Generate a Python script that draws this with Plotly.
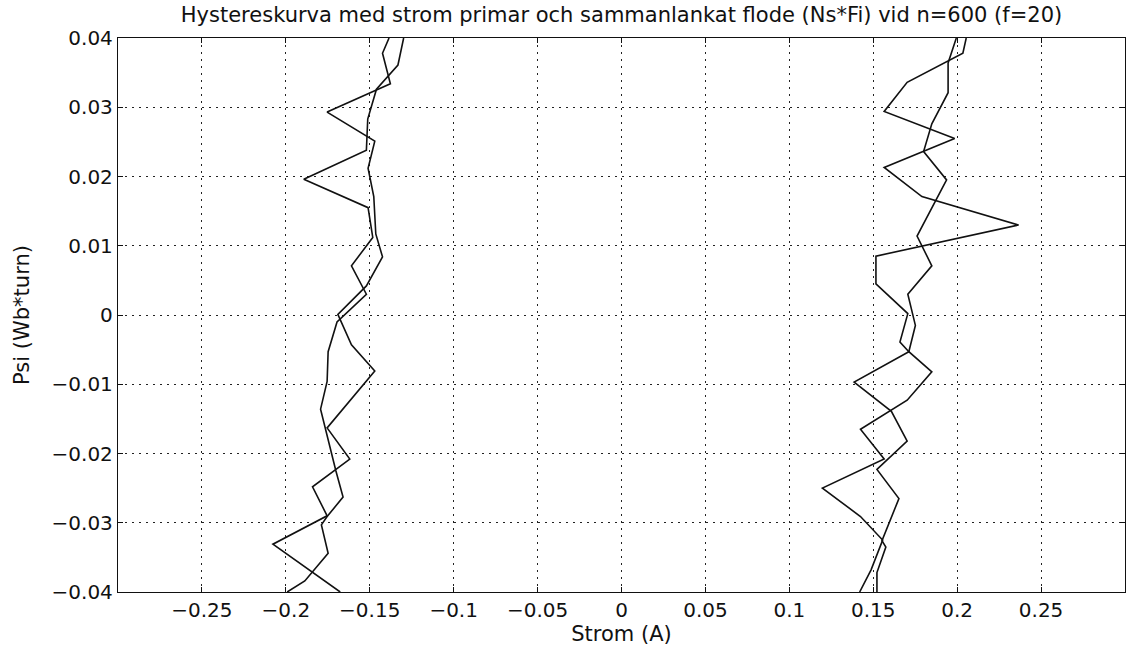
import plotly.graph_objects as go

# Measured hysteresis: primary current (A) vs. linked flux Psi (Wb*turn), n=600, f=20
# Four branches of the loop, each traced from top (Psi=+0.04) to bottom (Psi=-0.04)
left_a_current = [-0.1385, -0.1424, -0.1377, -0.1754, -0.1470, -0.1510, -0.1476, -0.1464,
                  -0.1424, -0.1520, -0.1690, -0.1609, -0.1470, -0.1754, -0.1619, -0.1841,
                  -0.1754, -0.2077, -0.1676]
left_a_psi = [0.0400, 0.0378, 0.0334, 0.0293, 0.0251, 0.0212, 0.0171, 0.0117,
              0.0084, 0.0042, 0.0001, -0.0043, -0.0081, -0.0163, -0.0208, -0.0248,
              -0.0290, -0.0331, -0.0400]

left_b_current = [-0.1298, -0.1332, -0.1460, -0.1512, -0.1520, -0.1893, -0.1510, -0.1482,
                  -0.1609, -0.1520, -0.1695, -0.1748, -0.1754, -0.1793, -0.1702, -0.1659,
                  -0.1754, -0.1788, -0.1748, -0.1887, -0.1992]
left_b_psi = [0.0400, 0.0361, 0.0326, 0.0283, 0.0238, 0.0196, 0.0155, 0.0112,
              0.0071, 0.0030, -0.0010, -0.0053, -0.0096, -0.0136, -0.0225, -0.0263,
              -0.0291, -0.0303, -0.0344, -0.0384, -0.0400]

right_a_current = [0.1995, 0.1946, 0.1946, 0.1849, 0.1800, 0.1937, 0.1761, 0.1849,
                   0.1706, 0.1751, 0.1712, 0.1849, 0.1702, 0.1424, 0.1565, 0.1197,
                   0.1424, 0.1556, 0.1487, 0.1419]
right_a_psi = [0.0400, 0.0364, 0.0321, 0.0276, 0.0236, 0.0195, 0.0114, 0.0071,
               0.0030, -0.0015, -0.0053, -0.0082, -0.0123, -0.0165, -0.0208, -0.0250,
               -0.0291, -0.0325, -0.0368, -0.0400]

right_b_current = [0.2054, 0.2034, 0.1702, 0.1565, 0.1985, 0.1800, 0.1565, 0.1790,
                   0.2366, 0.1516, 0.1516, 0.1706, 0.1659, 0.1712, 0.1386, 0.1608,
                   0.1702, 0.1522, 0.1653, 0.1552, 0.1575, 0.1522, 0.1522]
right_b_psi = [0.0400, 0.0378, 0.0336, 0.0294, 0.0255, 0.0236, 0.0213, 0.0171,
               0.0130, 0.0085, 0.0045, 0.0002, -0.0039, -0.0053, -0.0097, -0.0139,
               -0.0182, -0.0223, -0.0265, -0.0326, -0.0335, -0.0372, -0.0400]

x_ticks = [-0.25, -0.2, -0.15, -0.1, -0.05, 0, 0.05, 0.1, 0.15, 0.2, 0.25]
y_ticks = [-0.04, -0.03, -0.02, -0.01, 0, 0.01, 0.02, 0.03, 0.04]

title_text = "Hystereskurva med strom primar och sammanlankat flode (Ns*Fi) vid n=600 (f=20)"
x_title = "Strom (A)"
y_title = "Psi (Wb*turn)"

FONT = "DejaVu Sans"
INK = "#111111"

fig = go.Figure()
branches = [
    (left_a_current, left_a_psi),
    (left_b_current, left_b_psi),
    (right_a_current, right_a_psi),
    (right_b_current, right_b_psi),
]
for cur, psi in branches:
    fig.add_trace(go.Scatter(
        x=cur, y=psi, mode="lines",
        line=dict(color=INK, width=1.6),
        showlegend=False, hoverinfo="skip",
    ))

axis_common = dict(
    showline=True, linecolor=INK, linewidth=1.3, mirror="ticks",
    ticks="inside", ticklen=5, tickcolor=INK, tickwidth=1,
    showgrid=True, gridcolor="#222222", gridwidth=1, griddash="2px,5px",
    zeroline=False,
    tickfont=dict(family=FONT, size=20, color=INK),
)

fig.update_xaxes(
    range=[-0.3, 0.3], tickvals=x_ticks,
    title=dict(text=x_title, font=dict(family=FONT, size=21, color=INK), standoff=0),
    **axis_common,
)
fig.update_yaxes(
    range=[-0.04, 0.04], tickvals=y_ticks,
    title=dict(text=y_title, font=dict(family=FONT, size=21, color=INK), standoff=16),
    **axis_common,
)

fig.update_layout(
    width=1137, height=648,
    margin=dict(l=118, r=11, t=38, b=50),
    paper_bgcolor="white", plot_bgcolor="white",
    title=dict(
        text=title_text, x=0.5, xref="paper", xanchor="center",
        y=1 - 15 / 648, yref="container", yanchor="middle",
        font=dict(family=FONT, size=21, color=INK),
    ),
)

fig.write_html("out.html")
